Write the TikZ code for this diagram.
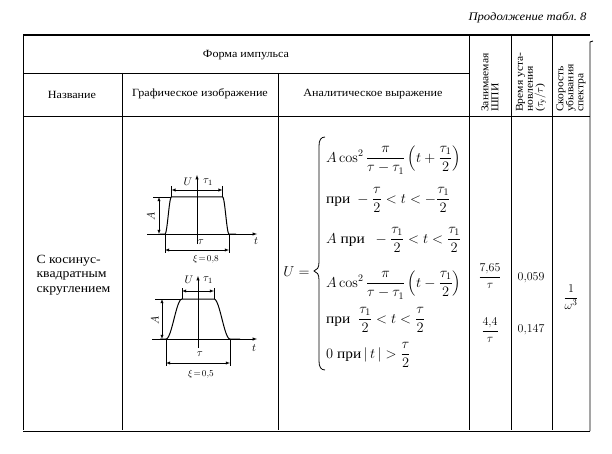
\documentclass[tikz,border=0pt]{standalone}
\usepackage[no-math]{fontspec}
\setmainfont{Liberation Serif}[FakeStretch=1.1]
\usepackage{amsmath}
\usepackage{amssymb}

\begin{document}
\begin{tikzpicture}[x=1pt,y=-1pt,
  rule/.style={line width=0.9pt},
  pulse/.style={line width=1pt},
  axis/.style={line width=0.5pt,->,>=latex},
  dim/.style={line width=0.45pt,<->,>=latex},
  ext/.style={line width=0.45pt},
  head/.style={font=\fontsize{11}{12}\selectfont,inner sep=1pt},
  vhead/.style={font=\fontsize{10.5}{10}\selectfont,rotate=90,anchor=west,align=left,inner sep=1pt},
  lbl/.style={font=\fontsize{11}{12}\selectfont,inner sep=0.5pt},
  expr/.style={font=\fontsize{14}{16}\selectfont,anchor=west,inner sep=0pt}]
\useasboundingbox (0,0) rectangle (612,454);
% table rules
\draw[line width=1.2pt] (23,35) -- (590,35);
\draw[rule] (23,73) -- (469,73);
\draw[rule] (23,116) -- (590,116);
\draw[rule] (23,431) -- (590,431);
\draw[rule] (23,36) -- (23,430);
\draw[rule] (122,73) -- (122,430);
\draw[rule] (278,73) -- (278,430);
\draw[rule] (469,35) -- (469,430);
\draw[rule] (511,35) -- (511,430);
\draw[rule] (552,35) -- (552,430);
\draw[rule] (593,41) -- (590,42) -- (590,431);
% title and headers
\node[font=\fontsize{11.5}{14}\selectfont\itshape,anchor=east] (title) at (590,18) {Продолжение табл.~8};
\node[head] (forma) at (246,55) {Форма импульса};
\node[head] (name) at (72,95) {Название};
\node[head] (graph) at (200,94) {Графическое изображение};
\node[head] (anal) at (373,94) {Аналитическое выражение};
\node[vhead] (shpi) at (490,113) {Занимаемая\\ШПИ};
\node[vhead] (time) at (531,113) {Время уста-\\новления\\($\tau_\text{у}/\tau$)};
\node[vhead] (speed) at (571,113) {Скорость\\убывания\\спектра};
% name of the pulse
\node[font=\fontsize{12.5}{14.5}\selectfont,anchor=west,align=left] (kind) at (33,275) {С косинус-\\квадратным\\скруглением};
% pulse with xi = 0.8
\draw[axis] (147,234) -- (257,234);
\draw[axis] (197,244) -- (197,175);
\draw[pulse] (160,234) -- plot[domain=-32:-25.6,samples=16] ({197+\x},{234-37*pow(cos(180/12.8*(\x+25.6)),2)})
  -- plot[domain=25.6:32,samples=16] ({197+\x},{234-37*pow(cos(180/12.8*(\x-25.6)),2)}) -- (236,234);
\draw[ext] (153,197) -- (171,197);
\draw[dim] (159,197) -- (159,234);
\draw[ext] (171.4,186) -- (171.4,197);
\draw[ext] (222.6,186) -- (222.6,197);
\draw[dim] (171.4,190) -- (222.6,190);
\draw[ext] (165,234) -- (165,253);
\draw[ext] (229,234) -- (229,253);
\draw[dim] (165,250) -- (229,250);
\node[lbl] (u1) at (188,182) {$U$};
\node[lbl] (t11) at (208,182) {$\tau_1$};
\node[lbl,rotate=90] (a1) at (151,216) {$A$};
\node[lbl] (tt1) at (256,241) {$t$};
\node[lbl] (tau1) at (201,242) {$\tau$};
\node[font=\fontsize{9}{10}\selectfont] (xi1) at (206,259) {$\xi\!=\!0{,}8$};
% pulse with xi = 0.5
\draw[axis] (152,339) -- (257,339);
\draw[axis] (198,348) -- (198,276);
\draw[pulse] (160,339) -- plot[domain=-32:-16,samples=20] ({198+\x},{339-40*pow(cos(180/32*(\x+16)),2)})
  -- plot[domain=16:32,samples=20] ({198+\x},{339-40*pow(cos(180/32*(\x-16)),2)}) -- (240,339);
\draw[ext] (155,299) -- (182,299);
\draw[ext] (182,288) -- (182,299);
\draw[ext] (214,288) -- (214,299);
\draw[dim] (182,291) -- (214,291);
\draw[dim] (162,299) -- (162,339);
\draw[ext] (166,339) -- (166,366);
\draw[ext] (230,339) -- (230,366);
\draw[dim] (166,363) -- (230,363);
\node[lbl] (u2) at (189,280) {$U$};
\node[lbl] (t12) at (208,280) {$\tau_1$};
\node[lbl,rotate=90] (a2) at (155,320) {$A$};
\node[lbl] (tt2) at (254,348) {$t$};
\node[lbl] (tau2) at (200,354) {$\tau$};
\node[font=\fontsize{9}{10}\selectfont] (xi2) at (201,374) {$\xi\!=\!0{,}5$};
% analytic expression
\node[font=\fontsize{14}{16}\selectfont,anchor=east] (ueq) at (313,272) {$U=$};
\draw[line width=0.8pt] (325,137) .. controls (321,137) and (319,140) .. (319,146) -- (319,262)
  .. controls (319,268) and (317,270) .. (314,271) .. controls (317,272) and (319,274) .. (319,280)
  -- (319,361) .. controls (319,367) and (321,370) .. (325,370);
\node[expr] (e1) at (326,160) {$A\cos^2\dfrac{\pi}{\tau-\tau_1}\left(t+\dfrac{\tau_1}{2}\right)$};
\node[expr] (e2) at (326,200) {$\text{при}\ -\dfrac{\tau}{2}<t<-\dfrac{\tau_1}{2}$};
\node[expr] (e3) at (326,240) {$A\ \text{при}\ \ -\dfrac{\tau_1}{2}<t<\dfrac{\tau_1}{2}$};
\node[expr] (e4) at (326,285) {$A\cos^2\dfrac{\pi}{\tau-\tau_1}\left(t-\dfrac{\tau_1}{2}\right)$};
\node[expr] (e5) at (326,320) {$\text{при}\ \ \dfrac{\tau_1}{2}<t<\dfrac{\tau}{2}$};
\node[expr] (e6) at (326,355) {$0\ \text{при}\,|\,t\,|>\dfrac{\tau}{2}$};
% values
\node[font=\fontsize{12.5}{14}\selectfont] (w1) at (490,276) {$\dfrac{7{,}65}{\tau}$};
\node[font=\fontsize{12.5}{14}\selectfont] (w2) at (490,330) {$\dfrac{4{,}4}{\tau}$};
\node[font=\fontsize{12.5}{14}\selectfont] (s1) at (531,278) {$0{,}059$};
\node[font=\fontsize{12.5}{14}\selectfont] (s2) at (531,330) {$0{,}147$};
\node[font=\fontsize{12.5}{14}\selectfont] (d1) at (571,297) {$\dfrac{1}{\omega^3}$};
\end{tikzpicture}
\end{document}
